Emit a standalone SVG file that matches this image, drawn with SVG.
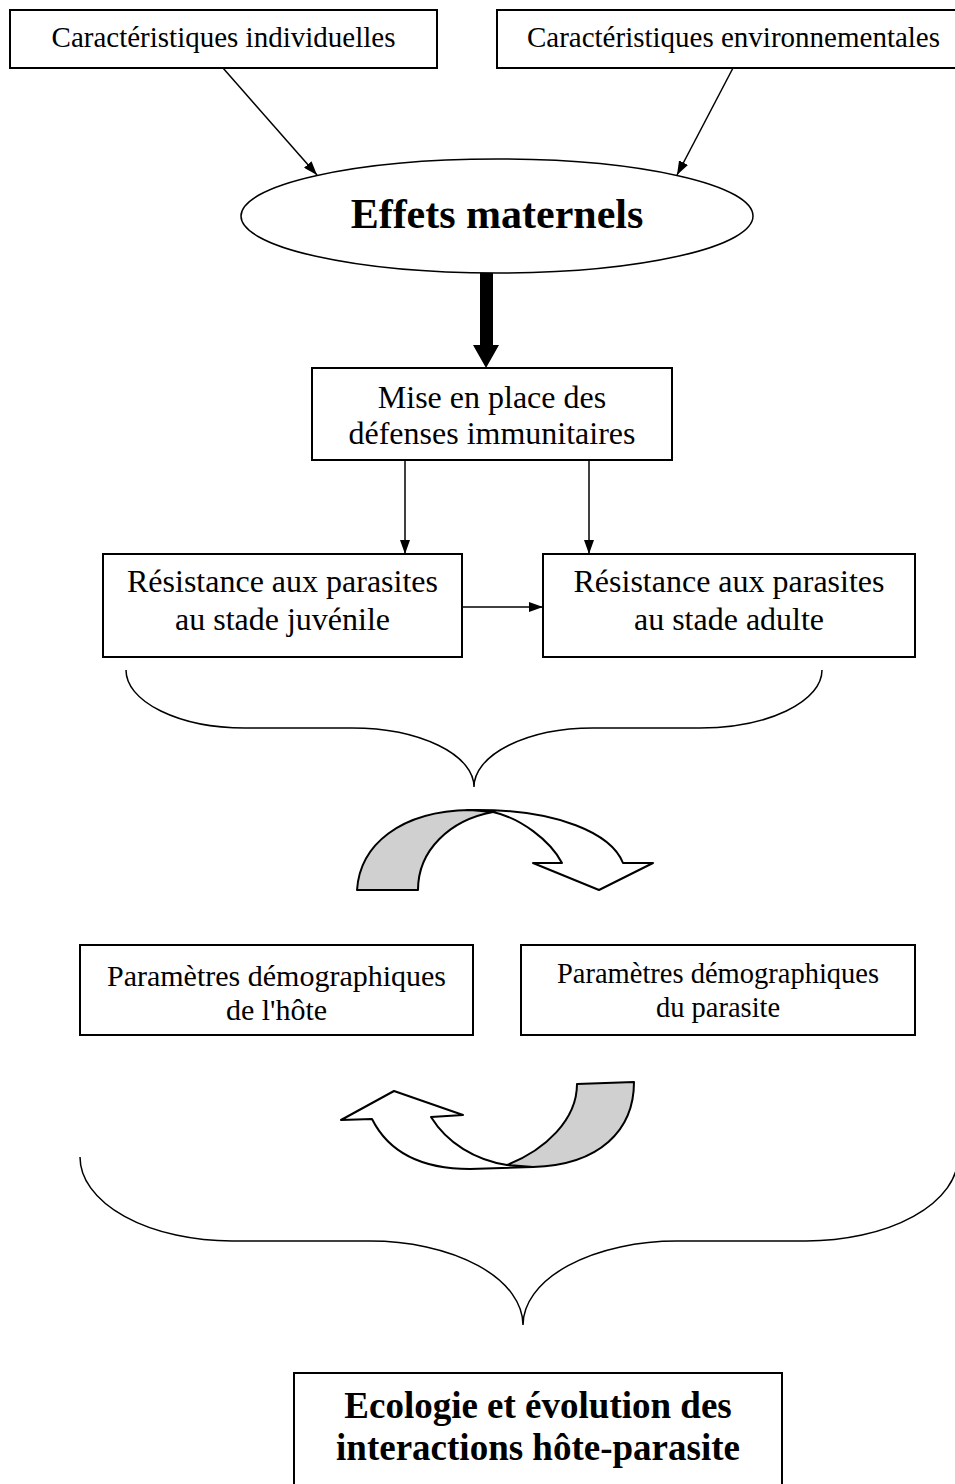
<svg xmlns="http://www.w3.org/2000/svg" width="955" height="1484" viewBox="0 0 955 1484">
<style>
.box{fill:#fff;stroke:#000;stroke-width:2}
.t{font-family:"Liberation Serif","Times New Roman",serif;fill:#000;text-anchor:middle}
.b{font-weight:bold}
.ln{fill:none;stroke:#000;stroke-width:1.5}
.br{fill:none;stroke:#000;stroke-width:1.5}
.ca{stroke:#000;stroke-width:2;stroke-linejoin:round}
</style>
<defs>
<marker id="ah" viewBox="0 0 14 10" refX="14" refY="5" markerWidth="14" markerHeight="10" markerUnits="userSpaceOnUse" orient="auto">
<path d="M0,0 L14,5 L0,10 Z" fill="#000"/>
</marker>
</defs>
<rect width="955" height="1484" fill="#fff"/>
<g id="connectors">
<line class="ln" x1="223" y1="68" x2="317" y2="175" marker-end="url(#ah)"/>
<line class="ln" x1="733" y1="68" x2="677" y2="175" marker-end="url(#ah)"/>
<path d="M480,273 L493,273 L493,345 L499,345 L486,368 L473,345 L480,345 Z" fill="#000"/>
<line class="ln" x1="405" y1="460" x2="405" y2="554" marker-end="url(#ah)"/>
<line class="ln" x1="589" y1="460" x2="589" y2="554" marker-end="url(#ah)"/>
<line class="ln" x1="462" y1="607" x2="543" y2="607" marker-end="url(#ah)"/>
<path class="br" d="M126,670 A119,58 0 0 0 245,728 L352,728 A122,59 0 0 1 474,787 A119,59 0 0 1 593,728 L700,728 A122,58 0 0 0 822,670"/>
<path class="br" d="M80,1157 A152,84 0 0 0 232,1241 L370,1241 A153,84 0 0 1 523,1325 A154,84 0 0 1 677,1241 L806,1241 A152,84 0 0 0 958,1157"/>
<g id="curved-arrow-1">
<path class="ca" fill="#fff" d="M467,810 C560,808 612,835 623,863 L653,863 L599,890 L533,863 L562,863 C550,840 520,818 493,812 Z"/>
<path class="ca" fill="#d0d0d0" d="M357,890 C360,845 400,811 470,810 L493,812 C450,820 418,850 418,890 Z"/>
</g>
<g id="curved-arrow-2">
<path class="ca" fill="#fff" d="M341,1120 L394,1091 L463,1115 L431,1117 C447,1143 475,1160 507,1165 L533,1167 L470,1169 C425,1169 390,1155 372,1119 Z"/>
<path class="ca" fill="#d0d0d0" d="M577,1084 L634,1082 C634,1130 600,1165 533,1167 L507,1165 C545,1150 577,1120 577,1084 Z"/>
</g>
</g>
<g id="n-indiv">
<rect class="box" x="10" y="10" width="427" height="58"/>
<text class="t" x="223.5" y="47" font-size="29">Caractéristiques individuelles</text>
</g>
<g id="n-env">
<rect class="box" x="497" y="10" width="475" height="58"/>
<text class="t" x="733.5" y="47" font-size="29">Caractéristiques environnementales</text>
</g>
<g id="n-effets">
<ellipse cx="497" cy="216" rx="256" ry="57" fill="#fff" stroke="#000" stroke-width="1.5"/>
<text class="t b" x="497" y="228" font-size="42">Effets maternels</text>
</g>
<g id="n-mise">
<rect class="box" x="312" y="368" width="360" height="92"/>
<text class="t" x="492" y="408" font-size="32">Mise en place des</text>
<text class="t" x="492" y="444" font-size="32">défenses immunitaires</text>
</g>
<g id="n-juv">
<rect class="box" x="103" y="554" width="359" height="103"/>
<text class="t" x="282.5" y="592" font-size="32">Résistance aux parasites</text>
<text class="t" x="282.5" y="630" font-size="32">au stade juvénile</text>
</g>
<g id="n-adult">
<rect class="box" x="543" y="554" width="372" height="103"/>
<text class="t" x="729" y="592" font-size="32">Résistance aux parasites</text>
<text class="t" x="729" y="630" font-size="32">au stade adulte</text>
</g>
<g id="n-hote">
<rect class="box" x="80" y="945" width="393" height="90"/>
<text class="t" x="276.5" y="986" font-size="30">Paramètres démographiques</text>
<text class="t" x="276.5" y="1020" font-size="30">de l'hôte</text>
</g>
<g id="n-parasite">
<rect class="box" x="521" y="945" width="394" height="90"/>
<text class="t" x="718" y="983" font-size="28.5">Paramètres démographiques</text>
<text class="t" x="718" y="1017" font-size="28.5">du parasite</text>
</g>
<g id="n-eco">
<rect class="box" x="294" y="1373" width="488" height="130"/>
<text class="t b" x="538" y="1418" font-size="37">Ecologie et évolution des</text>
<text class="t b" x="538" y="1460" font-size="37">interactions hôte-parasite</text>
</g>
</svg>
